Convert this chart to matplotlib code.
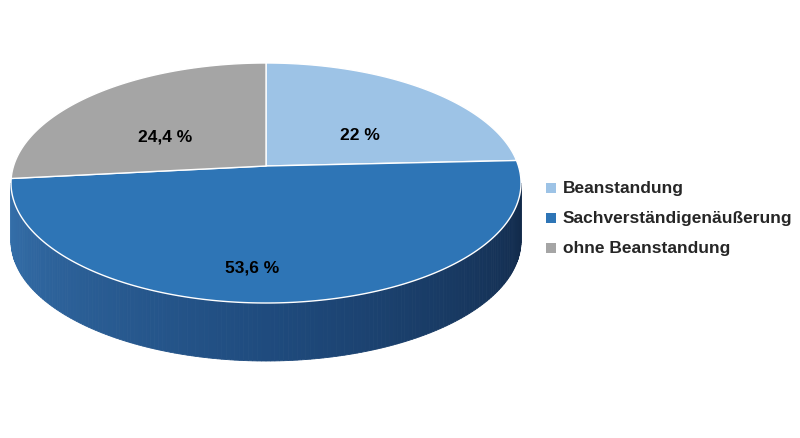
import numpy as np
import matplotlib.pyplot as plt
from matplotlib.patches import Polygon
from matplotlib.colors import LinearSegmentedColormap

labels = ['Beanstandung', 'Sachverständigenäußerung', 'ohne Beanstandung']
values = [22.0, 53.6, 24.4]
value_labels = ['22 %', '53,6 %', '24,4 %']
colors = ['#9dc3e6', '#2e75b6', '#a5a5a5']

fig = plt.figure(figsize=(8, 4.38), dpi=100)
ax = fig.add_axes([0, 0, 1, 1])
ax.set_xlim(0, 800)
ax.set_ylim(438, 0)
ax.axis('off')

cx, cy, rx, ry, depth = 266, 183, 255, 120, 58
apex = (266, 166)  # perspective: slice centre sits a bit above ellipse centre

def pt(phi):
    r = np.radians(phi)
    return cx + rx * np.cos(r), cy - ry * np.sin(r)

# side of the cylinder (front half), gradient shading
side_cmap = LinearSegmentedColormap.from_list('side', ['#3570ab', '#1f4b7e', '#122a4a'])
phis = np.linspace(180, 360, 181)
for i in range(len(phis) - 1):
    x0, y0 = pt(phis[i])
    x1, y1 = pt(phis[i + 1])
    c = side_cmap(i / (len(phis) - 2))
    ax.add_patch(Polygon([(x0, y0), (x1, y1), (x1, y1 + depth), (x0, y0 + depth)],
                         closed=True, facecolor=c, edgecolor=c, lw=0.6))

# top face slices, clockwise from 12 o'clock
start = 90.0
for v, col in zip(values, colors):
    end = start - v / 100 * 360
    ang = np.linspace(start, end, 200)
    pts = [apex] + [pt(a) for a in ang]
    ax.add_patch(Polygon(pts, closed=True, facecolor=col, edgecolor='white', lw=1.0))
    start = end

text_pos = [(360, 135), (252, 268), (165, 137)]
for (tx, ty), lab in zip(text_pos, value_labels):
    ax.text(tx, ty, lab, ha='center', va='center', fontsize=12.5,
            fontweight='bold', family='Liberation Sans', color='black')

# legend
for i, (lab, col) in enumerate(zip(labels, colors)):
    y = 188 + i * 30
    ax.add_patch(plt.Rectangle((546, y - 5), 10, 10, facecolor=col, edgecolor='none'))
    ax.text(563, y, lab, ha='left', va='center', fontsize=12.5,
            fontweight='bold', family='Liberation Sans', color='#262626')

fig.savefig('out.png', dpi=100)
